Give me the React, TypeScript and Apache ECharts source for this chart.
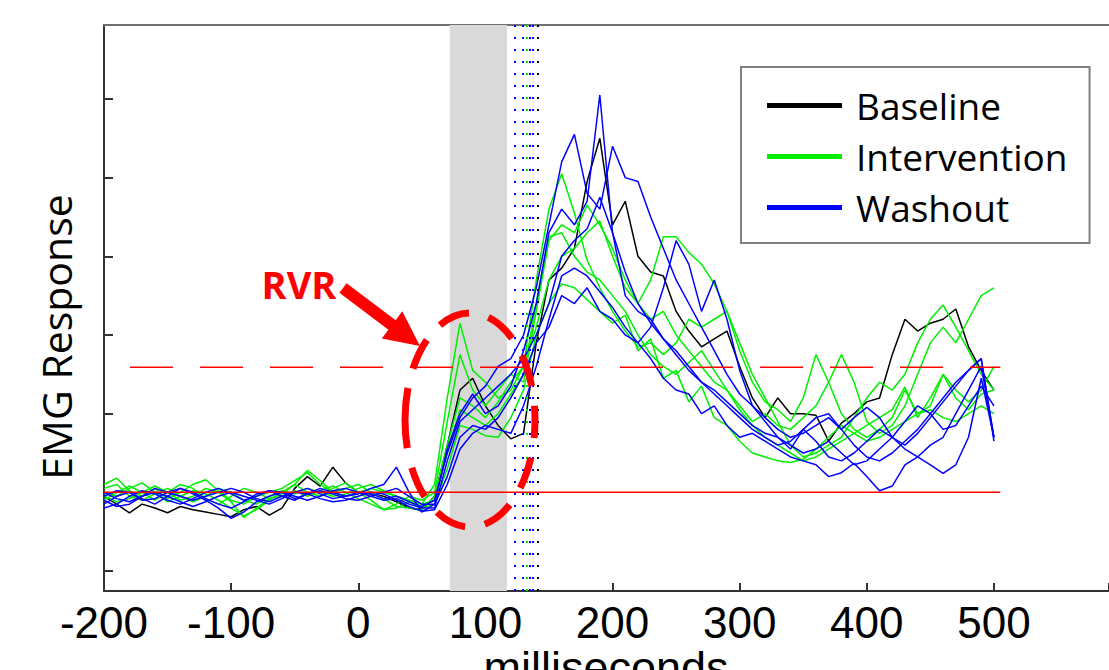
import React, { useEffect, useRef } from "react";
import * as echarts from "echarts";

// time axis (milliseconds)
const times = [-200,-190,-180,-170,-160,-150,-140,-130,-120,-110,-100,-90,-80,-70,-60,-50,-40,-30,-20,-10,0,10,20,30,40,50,60,70,80,90,100,110,120,130,140,150,160,170,180,190,200,210,220,230,240,250,260,270,280,290,300,310,320,330,340,350,360,370,380,390,400,410,420,430,440,450,460,470,480,490,500];

const xTickLabels = [-200, -100, 0, 100, 200, 300, 400, 500];
const yTicks = [0, 1, 2, 3, 4, 5, 6];

// Baseline trial (black)
const baseline1 = [0.95,0.85,0.74,0.85,0.80,0.74,0.82,0.78,0.75,0.72,0.69,0.78,0.82,0.71,0.80,1.05,1.20,1.08,1.32,1.12,1.00,0.98,0.95,0.88,0.80,0.78,
  0.95,1.60,2.30,2.45,2.10,1.85,1.68,1.75,2.90,3.70,3.85,4.10,4.95,5.50,4.40,4.70,4.00,3.80,3.75,3.30,3.05,2.85,2.95,3.05,2.60,2.20,1.95,2.20,2.00,2.00,1.98,1.65,1.88,2.00,2.15,2.20,2.75,3.20,3.05,3.15,3.20,3.33,2.85,2.55,2.30];

// Intervention trials (green)
const intervention1 = [1.10,1.18,1.02,0.95,1.05,0.92,1.00,1.10,1.16,1.02,0.90,0.85,0.95,1.00,1.05,1.15,1.25,1.10,1.00,0.95,1.00,1.05,1.00,0.95,0.90,0.85,
  1.10,2.20,3.15,2.55,2.40,2.20,2.30,2.60,3.70,4.60,5.05,4.55,3.95,3.60,3.30,3.05,2.85,2.90,2.75,2.90,3.20,3.10,3.20,3.30,2.80,2.40,2.15,2.05,1.90,2.20,2.75,2.40,2.00,1.80,1.70,1.80,1.95,2.30,2.00,2.10,2.50,2.20,2.05,2.25,2.30];
const intervention2 = [1.00,0.95,1.05,1.12,1.00,0.88,0.95,1.02,0.98,0.90,0.80,0.70,0.78,0.90,1.00,1.10,1.00,0.95,1.05,1.12,1.00,0.90,0.78,0.85,0.95,0.90,
  1.00,1.90,2.75,2.30,2.10,2.30,2.50,2.40,3.30,4.20,4.40,4.30,4.65,4.40,4.10,3.70,3.40,3.20,3.30,3.00,2.80,2.60,2.40,2.30,2.10,1.90,2.00,1.85,1.80,1.95,2.10,2.40,2.75,2.40,1.90,1.75,1.85,2.10,2.50,2.90,3.10,2.90,3.20,3.50,3.60];
const intervention3 = [0.90,1.00,1.08,1.00,0.90,1.00,1.10,1.05,0.92,0.85,0.95,1.05,1.00,0.92,0.98,1.10,1.28,1.15,1.00,1.05,1.10,1.00,0.92,0.82,0.80,0.78,
  0.95,1.60,2.20,2.10,1.95,2.15,2.40,2.60,3.10,3.70,4.00,4.10,4.30,4.45,4.00,3.60,3.40,3.70,4.25,4.25,4.05,3.90,3.65,3.30,2.90,2.50,2.20,1.90,1.60,1.45,1.50,1.60,1.70,1.95,2.20,2.40,2.30,2.50,2.90,3.20,3.38,3.10,2.80,2.50,2.30];
const intervention4 = [1.05,1.10,0.95,0.90,0.98,1.05,0.95,0.88,0.95,1.05,1.00,0.90,0.85,0.95,1.02,0.98,1.05,1.00,0.95,0.98,1.05,1.10,1.02,0.95,0.90,0.85,
  0.90,1.50,2.05,1.95,1.85,2.00,2.25,2.50,3.40,4.25,4.30,4.00,3.80,3.70,3.50,3.30,3.00,2.75,2.60,2.50,2.65,2.80,2.55,2.30,2.05,1.85,1.70,1.60,1.50,1.40,1.45,1.55,1.65,1.75,1.85,1.95,2.05,2.34,1.95,2.20,2.50,2.30,2.15,2.30,2.60];
const intervention5 = [0.95,0.88,0.92,1.00,1.08,1.00,0.90,0.95,1.05,1.00,0.88,0.68,0.80,0.92,0.95,1.02,0.95,1.02,1.08,1.00,0.92,0.85,0.78,0.80,0.88,0.80,
  0.85,1.30,1.85,1.80,1.72,1.70,1.95,2.30,3.00,3.40,3.65,3.60,3.45,3.30,3.15,3.25,2.80,2.95,2.45,2.55,2.15,2.35,1.95,1.85,1.65,1.50,1.45,1.40,1.38,1.42,1.55,1.70,1.85,1.75,1.65,1.70,1.80,1.90,2.00,2.05,1.95,1.90,2.00,2.10,2.00];

// Washout trials (blue)
const washout1 = [0.85,0.95,1.00,0.92,0.85,0.95,1.05,0.98,0.90,0.80,0.67,0.75,0.88,0.95,1.00,0.92,0.98,1.05,1.00,0.95,0.98,1.05,1.10,1.32,1.00,0.75,
  0.85,1.55,2.00,2.25,2.00,2.10,2.35,2.80,3.40,4.30,4.60,4.40,4.70,6.05,4.30,3.50,3.30,3.20,2.95,2.80,2.60,2.40,2.30,2.15,2.00,1.85,1.75,1.70,1.60,1.50,1.55,1.65,1.50,1.35,1.40,1.55,1.70,1.90,2.10,2.00,1.80,1.85,2.10,2.35,2.10];
const washout2 = [1.00,0.92,0.88,0.95,1.05,1.00,0.95,0.90,0.95,1.00,1.05,1.00,0.92,0.88,0.95,1.00,1.05,0.98,0.92,0.95,1.00,0.98,0.92,0.95,0.88,0.82,
  0.90,1.50,1.95,2.20,2.35,2.60,2.70,3.00,3.60,4.40,5.20,5.55,4.80,4.60,5.40,5.00,4.95,4.50,4.10,3.70,3.40,3.10,2.80,2.50,2.25,2.10,1.95,1.80,1.70,1.75,1.85,1.95,1.80,1.60,1.45,1.40,1.50,1.65,1.80,2.00,2.20,2.40,2.55,2.70,1.70];
const washout3 = [0.80,0.85,0.95,1.02,0.98,0.90,0.85,0.92,1.00,1.05,0.98,0.90,0.95,1.02,1.00,0.95,0.90,0.95,1.02,1.05,1.00,0.95,0.90,0.92,0.85,0.80,
  0.80,1.40,1.90,2.05,2.20,2.35,2.50,2.70,3.00,3.40,4.00,4.20,4.35,4.75,4.30,3.80,3.40,3.15,2.95,2.75,2.55,2.40,2.25,2.10,1.95,1.80,1.70,1.60,1.65,1.80,1.95,2.00,1.80,1.95,2.08,1.95,1.70,1.55,1.45,1.35,1.24,1.35,1.70,2.45,1.70];
const washout4 = [0.95,1.02,1.00,0.90,0.92,1.00,1.05,1.00,0.92,0.85,0.80,0.88,0.98,1.02,0.95,0.90,0.98,1.02,0.98,0.92,0.90,0.95,1.00,1.05,0.95,0.85,
  0.85,1.20,1.70,1.85,1.80,1.95,2.20,2.50,2.90,3.10,3.50,3.40,3.60,3.30,3.20,3.00,2.90,3.10,3.60,4.20,3.90,3.30,3.70,3.20,2.55,2.10,1.90,1.70,1.55,1.80,1.65,1.45,1.40,1.50,1.65,1.80,1.70,1.60,1.75,1.95,2.15,2.35,2.55,2.70,1.65];
const washout5 = [0.90,0.82,0.85,0.95,1.00,0.95,0.88,0.82,0.88,0.95,1.00,0.95,0.90,0.85,0.92,1.00,0.98,0.92,0.88,0.90,0.95,1.00,0.98,0.90,0.82,0.76,
  0.78,1.10,1.55,1.75,1.85,1.80,1.75,2.10,2.60,3.20,3.75,3.85,3.75,3.55,3.35,3.10,2.90,2.70,2.45,2.30,2.25,2.00,2.10,1.85,1.70,1.75,1.65,1.55,1.45,1.40,1.35,1.20,1.25,1.37,1.20,1.02,1.08,1.35,1.45,1.60,1.70,2.00,2.30,2.60,1.70];

// reference levels and markers
const baselineLevel = 1.0;
const thresholdLevel = 2.59;
const levelSpan = [-200, 505];
const rvrWindow = [72, 117];
const onsetMarkers = [
  { ms: 123, group: "Washout" },
  { ms: 129, group: "Washout" },
  { ms: 132.5, group: "Intervention" },
  { ms: 134.5, group: "Washout" },
  { ms: 137, group: "Washout" },
  { ms: 141.5, group: "Baseline" },
];

const COLORS: Record<string, string> = {
  Baseline: "#000000",
  Intervention: "#00ee00",
  Washout: "#0000ff",
};

const traces = [
  { name: "Baseline", values: baseline1 },
  { name: "Intervention", values: intervention1 },
  { name: "Intervention", values: intervention2 },
  { name: "Intervention", values: intervention3 },
  { name: "Intervention", values: intervention4 },
  { name: "Intervention", values: intervention5 },
  { name: "Washout", values: washout1 },
  { name: "Washout", values: washout2 },
  { name: "Washout", values: washout3 },
  { name: "Washout", values: washout4 },
  { name: "Washout", values: washout5 },
];

export default function App() {
  const ref = useRef<HTMLDivElement>(null);

  useEffect(() => {
    if (!ref.current) return;
    const chart = echarts.init(ref.current, undefined, { renderer: "svg" });

    // arrow geometry
    const sx = 343, sy = 288, tx = 420, ty = 346;
    const dx = tx - sx, dy = ty - sy;
    const len = Math.sqrt(dx * dx + dy * dy);
    const ux = dx / len, uy = dy / len;
    const nx = -uy, ny = ux;
    const hw = 6, headW = 17, headL = 35;
    const hx = tx - headL * ux, hy = ty - headL * uy;
    const arrowPts = [
      [sx + hw * nx, sy + hw * ny],
      [sx - hw * nx, sy - hw * ny],
      [hx - hw * nx, hy - hw * ny],
      [hx - headW * nx, hy - headW * ny],
      [tx, ty],
      [hx + headW * nx, hy + headW * ny],
      [hx + hw * nx, hy + hw * ny],
    ];

    const traceSeries = traces.map((tr) => ({
      type: "line",
      name: tr.name,
      data: times.map((t, i) => [t, tr.values[i]]),
      symbol: "none",
      silent: true,
      lineStyle: { color: COLORS[tr.name], width: 1.5 },
      itemStyle: { color: COLORS[tr.name] },
      z: 3,
    }));

    const option: any = {
      animation: false,
      backgroundColor: "#ffffff",
      grid: { left: 104, top: 25, right: 0, bottom: 79, containLabel: false, outerBoundsMode: "none" },
      legend: {
        data: ["Baseline", "Intervention", "Washout"],
        orient: "vertical",
        left: 741,
        top: 67,
        padding: [13, 22, 10, 26],
        itemGap: 0,
        itemWidth: 75,
        itemHeight: 5,
        icon: "rect",
        backgroundColor: "#ffffff",
        borderColor: "#808080",
        borderWidth: 2,
        selectedMode: false,
        textStyle: {
          fontFamily: "Open Sans",
          fontSize: 37,
          color: "#000000",
          lineHeight: 51,
          padding: [0, 0, 0, 9],
        },
      },
      xAxis: [
        {
          type: "value",
          min: -200,
          max: 590.5,
          interval: 100,
          axisLine: { show: true, onZero: false, lineStyle: { color: "#333333", width: 2 } },
          axisTick: { show: true, inside: true, length: 8, lineStyle: { color: "#333333", width: 2 } },
          axisLabel: {
            fontFamily: "Liberation Sans",
            fontSize: 44,
            color: "#000000",
            margin: 9,
            customValues: xTickLabels,
          },
          splitLine: { show: false },
        },
        {
          type: "value",
          position: "top",
          min: -200,
          max: 590.5,
          axisLine: { show: true, onZero: false, lineStyle: { color: "#707070", width: 2 } },
          axisTick: { show: false },
          axisLabel: { show: false },
          splitLine: { show: false },
        },
      ],
      yAxis: {
        type: "value",
        min: -0.254,
        max: 6.94,
        axisLine: { show: true, onZero: false, lineStyle: { color: "#333333", width: 2 } },
        axisTick: { show: true, inside: true, length: 9, customValues: yTicks, lineStyle: { color: "#333333", width: 2 } },
        axisLabel: { show: false },
        splitLine: { show: false },
      },
      graphic: [
        {
          type: "text",
          x: 606,
          y: 645,
          z: 100,
          style: {
            text: "milliseconds",
            fontFamily: "Liberation Sans",
            fontSize: 45,
            fill: "#000000",
            align: "center",
            verticalAlign: "top",
          },
        },
        {
          type: "text",
          x: 56,
          y: 337,
          rotation: Math.PI / 2,
          z: 100,
          style: {
            text: "EMG Response",
            fontFamily: "Open Sans",
            fontSize: 41,
            fill: "#000000",
            align: "center",
            verticalAlign: "middle",
          },
        },
        {
          type: "text",
          x: 299,
          y: 284,
          z: 100,
          style: {
            text: "RVR",
            fontFamily: "Open Sans",
            fontWeight: "bold",
            fontSize: 38,
            fill: "#ff0000",
            align: "center",
            verticalAlign: "middle",
          },
        },
        {
          type: "polygon",
          z: 100,
          shape: { points: arrowPts },
          style: { fill: "#ff0000" },
        },
        {
          type: "ellipse",
          z: 100,
          shape: { cx: 470, cy: 420, rx: 65, ry: 107 },
          style: { fill: "none", stroke: "#ff0000", lineWidth: 7, lineDash: [32, 20] },
        },
      ],
      series: [
        {
          type: "line",
          name: "markers",
          data: [],
          silent: true,
          z: 1,
          markArea: {
            silent: true,
            itemStyle: { color: "#d9d9d9" },
            data: [[{ xAxis: rvrWindow[0] }, { xAxis: rvrWindow[1] }]],
          },
          markLine: {
            silent: true,
            symbol: ["none", "none"],
            label: { show: false },
            lineStyle: { type: [2, 10], width: 2 },
            data: onsetMarkers.map((m) => ({
              xAxis: m.ms,
              lineStyle: { color: COLORS[m.group], type: [2, 10], width: 2 },
            })),
          },
        },
        ...traceSeries,
        {
          type: "line",
          name: "baseline level",
          data: levelSpan.map((x) => [x, baselineLevel]),
          symbol: "none",
          silent: true,
          z: 4,
          lineStyle: { color: "#ff0000", width: 1.5 },
        },
        {
          type: "line",
          name: "threshold level",
          data: levelSpan.map((x) => [x, thresholdLevel]),
          symbol: "none",
          silent: true,
          z: 4,
          lineStyle: { color: "#ff0000", width: 1.5, type: [43, 27], dashOffset: 44 },
        },
      ],
    };

    chart.setOption(option);
    return () => chart.dispose();
  }, []);

  return (
    <div
      ref={ref}
      style={{ position: "fixed", left: 0, top: 0, width: 1109, height: 670, background: "#fff" }}
    />
  );
}
